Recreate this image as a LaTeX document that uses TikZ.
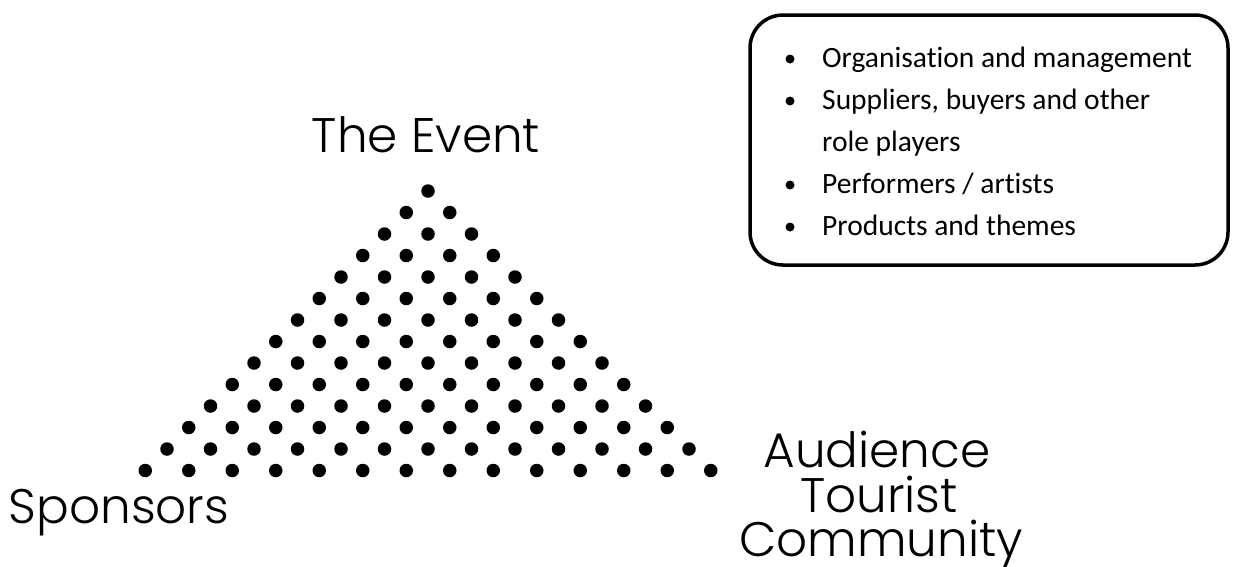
\documentclass[tikz,border=0pt]{standalone}
\usepackage{fontspec}
\setmainfont{Carlito}[Ligatures=NoCommon]
\newfontfamily\geofont{Poppins}[UprightFont=* Light]
\usetikzlibrary{positioning}

\begin{document}
\begin{tikzpicture}[x=1pt,y=-1pt,
  dot/.style={circle,fill=black,inner sep=0pt,minimum size=13.5pt},
  corner/.style={inner sep=0pt,anchor=base,font=\geofont\fontsize{48.5}{48}\selectfont},
  bullet/.style={circle,fill=black,inner sep=0pt,minimum size=9pt},
  item/.style={inner sep=0pt,anchor=base west,font=\fontsize{29.5}{34}\selectfont}]
\useasboundingbox (0,0) rectangle (1238,566);
  \foreach \r in {0,...,13}
  {  \foreach \c in {0,...,\r}
     {  \node [dot] (d\r-\c) at (428+43.5*\c-21.75*\r, 191+21.5*\r) {};}}
\node [corner] (event) at (426,152) {The Event};
\node [corner] (sponsors) at (119,523) {Sponsors};
\node [corner] (audience) at (877,467) {Audience};
\node [corner] (tourist) at (879,512) {Tourist};
\node [corner] (community) at (881,556) {Community};
\node [draw,line width=3.5pt,rounded corners=33pt,minimum width=478pt,minimum height=250pt] (roles) at (989,140) {};
  \foreach \n/\y/\t in {1/67/{Organisation and management},2/109/{Suppliers, buyers and other},4/193/{Performers / artists},5/235/{Products and themes}}
  {  \node [bullet] (b\n) at (790,\y-8) {};
     \node [item] (i\n) at (822,\y) {\t};}
\node [item] (i3) at (822,151) {role players};
\end{tikzpicture}
\end{document}
